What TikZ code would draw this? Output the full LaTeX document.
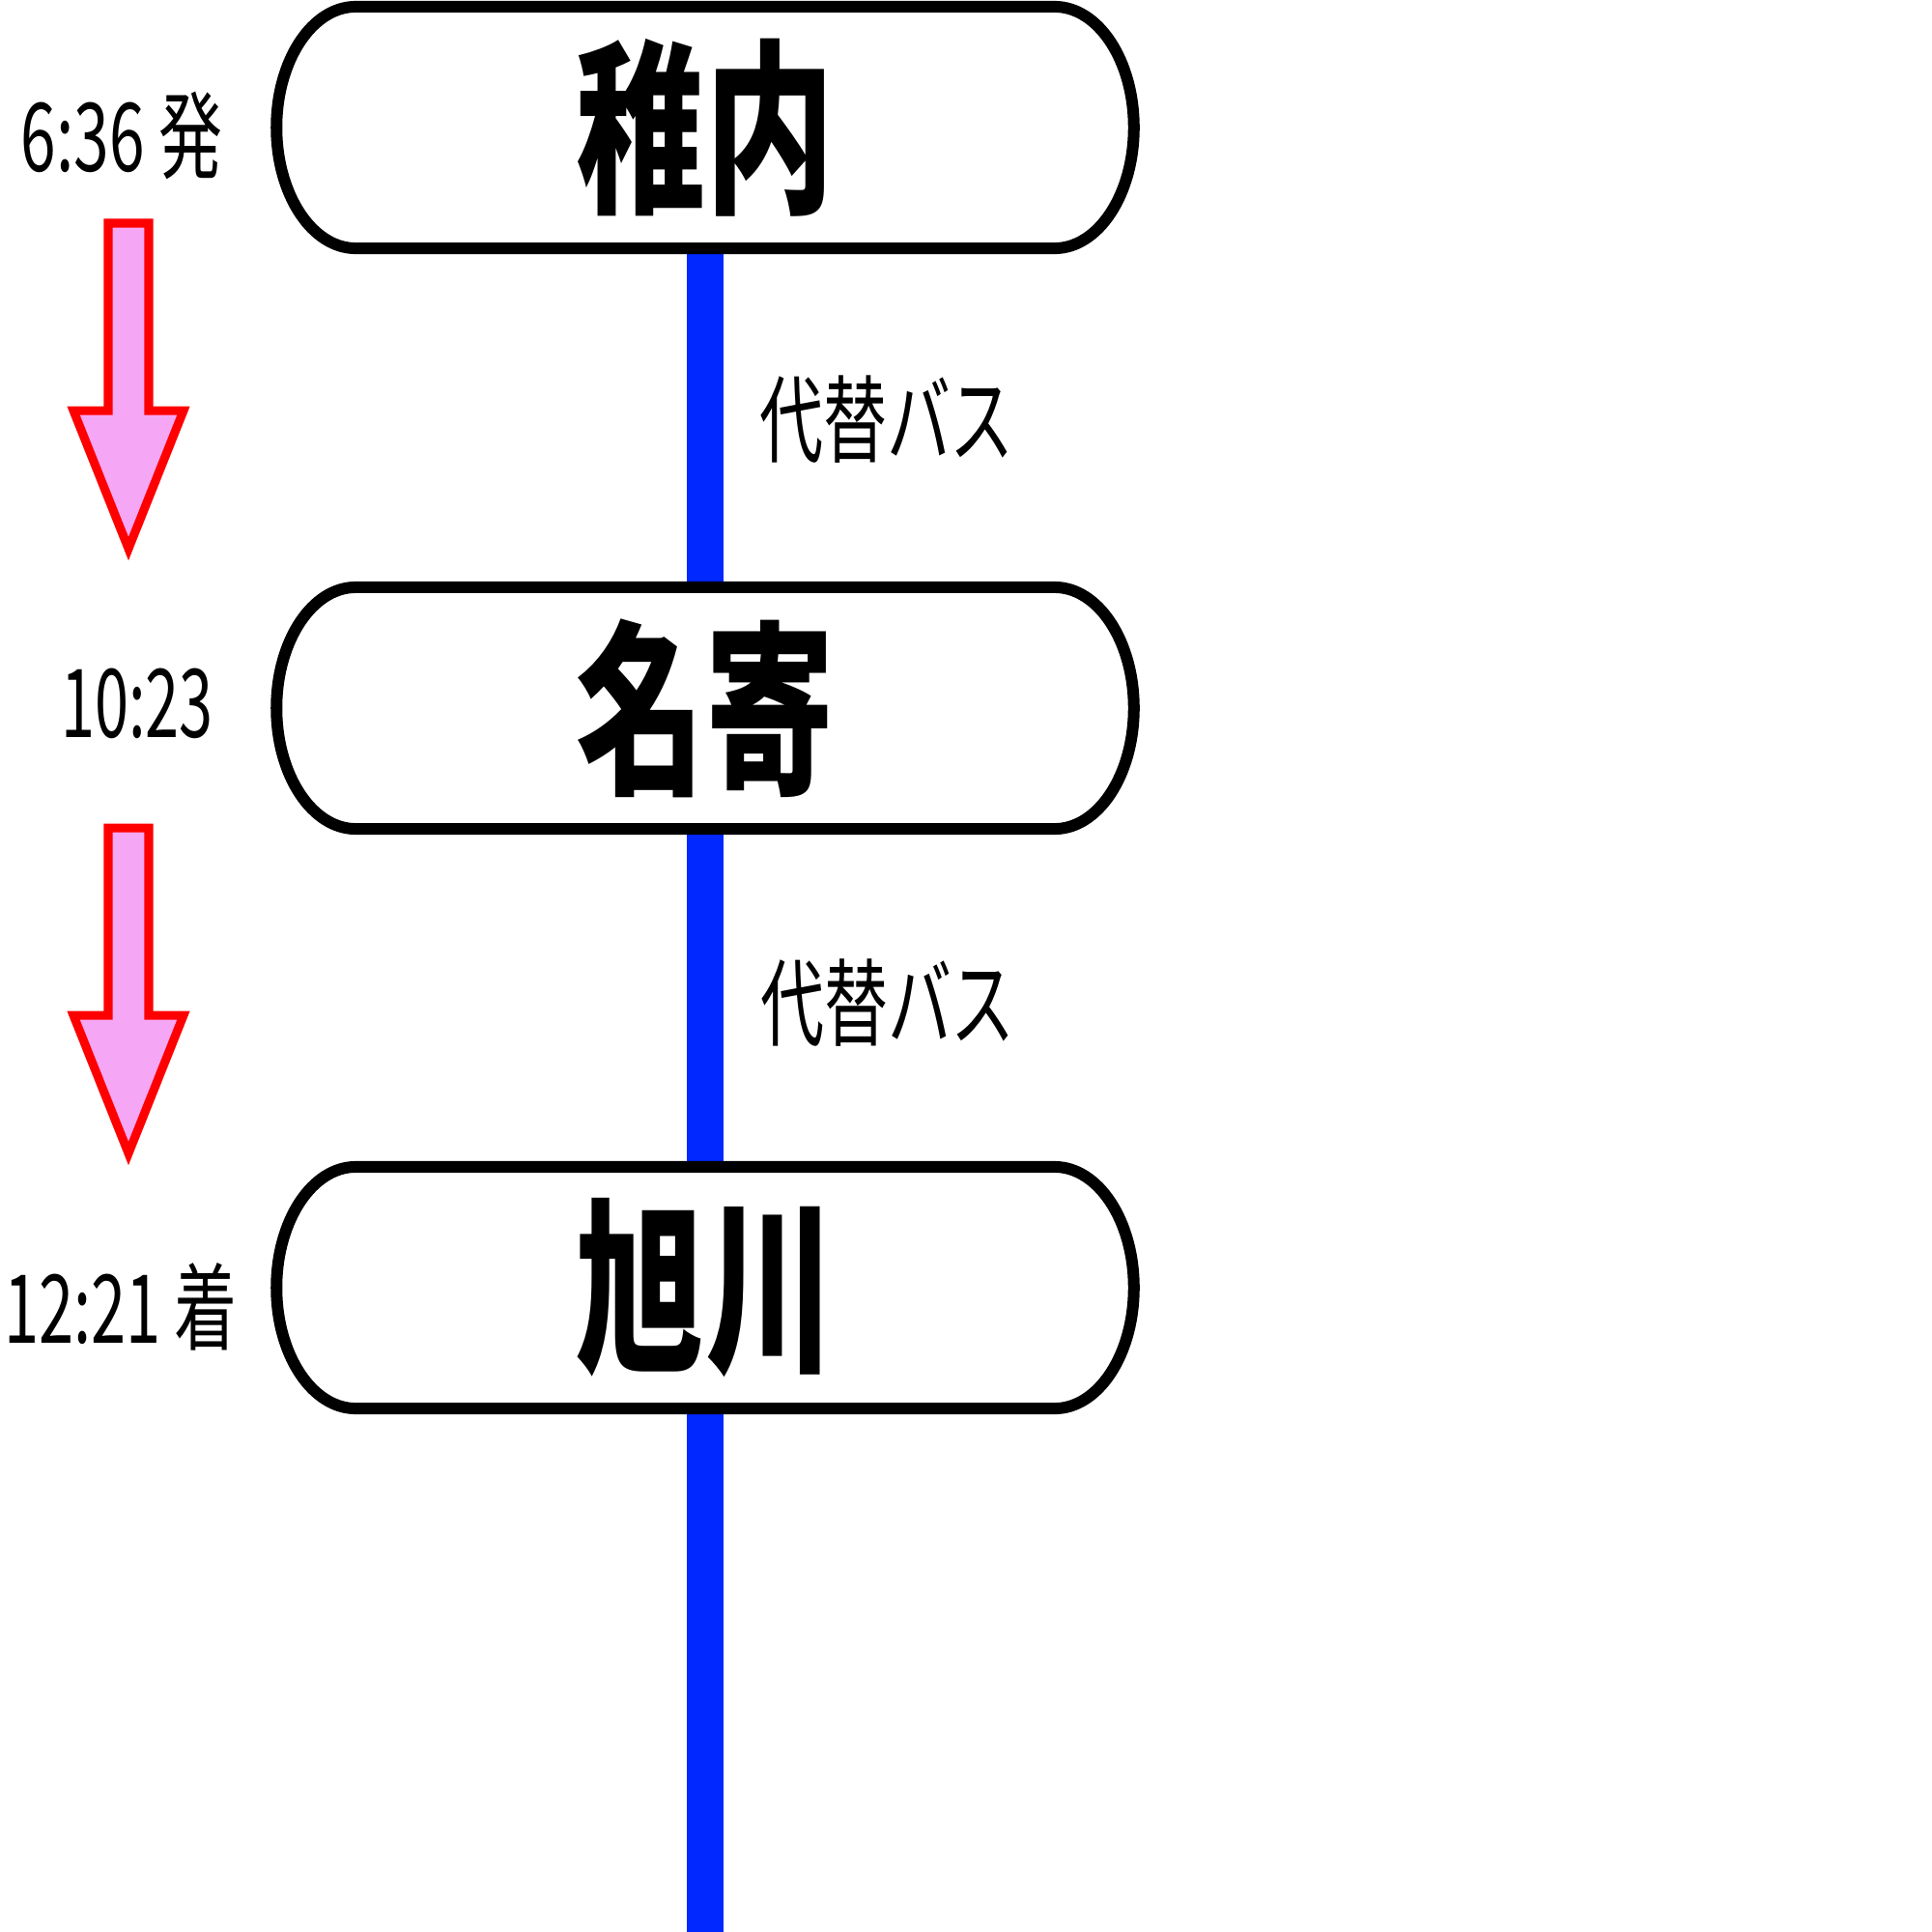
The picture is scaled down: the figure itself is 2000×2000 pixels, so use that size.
\documentclass[tikz,border=0pt]{standalone}
\usepackage{fontspec}
\newfontfamily\jp{Noto Sans CJK JP}
\usetikzlibrary{backgrounds}
\definecolor{lineblue}{RGB}{0,40,255}
\definecolor{arrowpink}{RGB}{245,166,245}
\tikzset{
  stname/.style={minimum width=8.87cm, minimum height=2.5cm, inner sep=0pt, outer sep=0pt,
    font=\jp\bfseries\fontsize{55}{55}\selectfont},
  stframe/.style={draw=black, line width=0.12cm, fill=white},
  timelbl/.style={inner sep=0pt, font=\jp\fontsize{28}{28}\selectfont},
  buslbl/.style={inner sep=0pt, font=\jp\fontsize{28}{28}\selectfont},
  railline/.style={draw=lineblue, line width=0.38cm},
  downarrow/.style={draw=red, line width=0.09cm, fill=arrowpink, miter limit=10}
}
\newcommand\stbox[1]{%
  \draw[stframe] ([xshift=-3.615cm]#1.north) -- ([xshift=3.615cm]#1.north)
    arc[start angle=90,end angle=-90,x radius=0.82cm,y radius=1.25cm]
    -- ([xshift=-3.615cm]#1.south)
    arc[start angle=270,end angle=90,x radius=0.82cm,y radius=1.25cm] -- cycle;}
\newcommand\dnarrow[2]{% #1 = x centre, #2 = top y (pixels, positive down)
  \draw[downarrow] (#1-21,-#2) -- (#1+21,-#2) -- (#1+21,-#2-194) -- (#1+57,-#2-194)
    -- (#1,-#2-337) -- (#1-57,-#2-194) -- (#1-21,-#2-194) -- cycle;}
\begin{document}
\begin{tikzpicture}[x=0.01cm,y=0.01cm]
\useasboundingbox (0,0) rectangle (2000,-2000);

\node[stname] (wakkanai) at (730,-132) {\scalebox{0.69}[1]{稚内}};
\node[stname] (nayoro) at (730,-733) {\scalebox{0.69}[1]{名寄}};
\node[stname] (asahikawa) at (730,-1333) {\scalebox{0.69}[1]{旭川}};
\coordinate (lineend) at (730,-2000);

\begin{scope}[on background layer]
  \fill[white] (0,0) rectangle (2000,-2000);
  \draw[railline] (wakkanai.center) -- (nayoro.center) -- (asahikawa.center) -- (lineend);
  \stbox{wakkanai}
  \stbox{nayoro}
  \stbox{asahikawa}
\end{scope}

\node[buslbl] (bus1) at (918,-434) {\scalebox{0.67}[1]{代替バス}};
\node[buslbl] (bus2) at (919,-1038) {\scalebox{0.67}[1]{代替バス}};

\node[timelbl] (t1) at (126,-140) {\scalebox{0.67}[1]{6:36 発}};
\node[timelbl] (t2) at (142,-728) {\scalebox{0.64}[1]{10:23}};
\node[timelbl] (t3) at (125,-1353) {\scalebox{0.66}[1]{12:21 着}};

\dnarrow{133}{231}
\dnarrow{133}{857}
\end{tikzpicture}
\end{document}
